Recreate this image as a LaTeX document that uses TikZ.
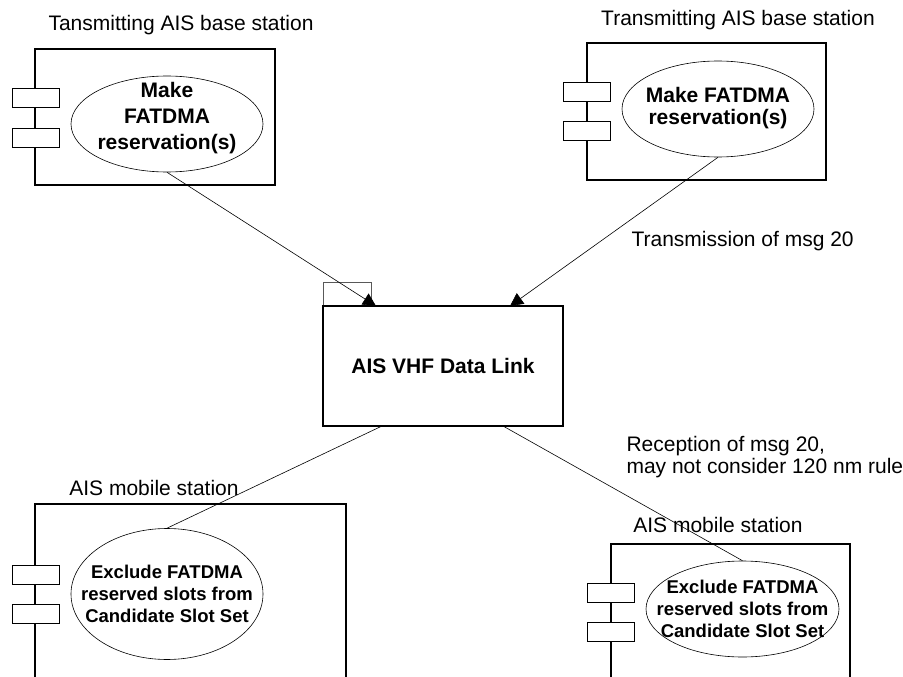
\documentclass[tikz,border=0pt]{standalone}
\usepackage{fontspec}
\setmainfont{Liberation Sans}
\usetikzlibrary{shapes.geometric}
\usetikzlibrary{arrows.meta}

\tikzset{
  txt/.style={font=\fontsize{21}{22}\selectfont},
  stationbox/.style={draw,line width=1.2pt,inner sep=0pt},
  porttab/.style={draw,fill=white,line width=0.6pt,minimum width=47pt,minimum height=19pt,inner sep=0pt},
  usecase/.style={draw,ellipse,line width=0.6pt,inner sep=0pt,minimum width=192pt,minimum height=96pt},
  casetext/.style={align=center,inner sep=0pt,font=\fontsize{21}{22}\selectfont\bfseries},
  smallcase/.style={casetext,font=\fontsize{18.5}{22}\selectfont\bfseries},
  link/.style={line width=0.6pt},
  sendto/.style={link,-{Triangle[length=13pt,width=13pt]}}
}

\begin{document}
\begin{tikzpicture}[x=1pt,y=-1pt]
  \useasboundingbox (0,0) rectangle (903,677);
  \clip (0,0) rectangle (903,677);
  \node[stationbox,minimum width=240pt,minimum height=136pt] (bsA) at (155,117) {};
  \node[stationbox,minimum width=239pt,minimum height=137pt] (bsB) at (706.5,111.5) {};
  \node[stationbox,minimum width=311pt,minimum height=216pt] (msA) at (190.5,612) {};
  \node[stationbox,minimum width=239pt,minimum height=216pt] (msB) at (730.5,652) {};
  \node[txt,anchor=base] (tA) at (181,31) {Tansmitting AIS base station};
  \node[txt,anchor=base] (tB) at (738,26) {Transmitting AIS base station};
  \node[txt,anchor=base] (tC) at (154,495) {AIS mobile station};
  \node[txt,anchor=base] (tD) at (718,532) {AIS mobile station};
  \node[porttab] (pA1) at (35.5,97.5) {};
  \node[porttab] (pA2) at (35.5,138) {};
  \node[porttab] (pB1) at (587,92) {};
  \node[porttab] (pB2) at (587,130.5) {};
  \node[porttab] (pC1) at (35.5,575) {};
  \node[porttab] (pC2) at (35.5,614) {};
  \node[porttab] (pD1) at (610.5,592.5) {};
  \node[porttab] (pD2) at (610.5,631.5) {};
  \node[usecase,label={[casetext,font=\fontsize{21}{26}\selectfont\bfseries,yshift=6pt]center:Make\\FATDMA\\reservation(s)}] (mkA) at (167,124) {};
  \node[usecase,label={[casetext,yshift=1pt]center:Make FATDMA\\reservation(s)}] (mkB) at (718,109) {};
  \node[usecase,minimum height=131pt,label={[smallcase]center:Exclude FATDMA\\reserved slots from\\Candidate Slot Set}] (exA) at (167,594) {};
  \node[usecase,minimum width=193pt,label={[smallcase]center:Exclude FATDMA\\reserved slots from\\Candidate Slot Set}] (exB) at (742.5,609) {};
  \draw[line width=0.6pt,gray!70!black] (323,306) -- (323,282) -- (371,282) -- (371,306);
  \node[stationbox,fill=white,minimum width=240pt,minimum height=120pt,
    font=\fontsize{21}{22}\selectfont\bfseries] (vdl) at (443,366) {AIS VHF Data Link};
  \coordinate (inA) at (376,306);
  \coordinate (inB) at (510,306);
  \coordinate (outA) at (382,426);
  \coordinate (outB) at (503,426);
  \draw[sendto] (mkA.south) -- (inA);
  \draw[sendto] (mkB.south) -- (inB);
  \draw[link] (outA) -- (exA.north);
  \draw[link] (outB) -- (exB.north);
  \node[txt,anchor=base west] (tx) at (628,246) {Transmission of msg 20};
  \node[txt,anchor=base west,align=left] (rx) at (623,473) {Reception of msg 20,\\may not consider 120 nm rule};
\end{tikzpicture}
\end{document}
